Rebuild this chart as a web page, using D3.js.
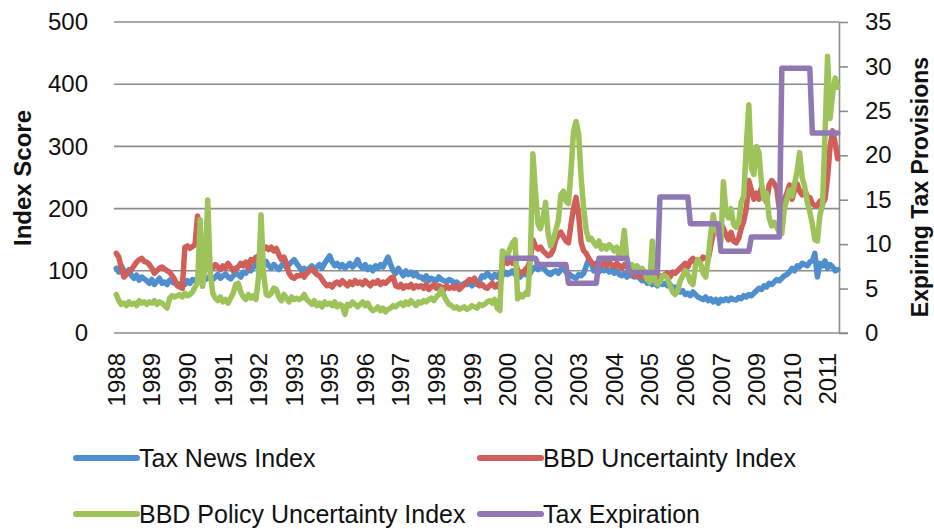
<!DOCTYPE html>
<html>
<head>
<meta charset="utf-8">
<script src="https://cdn.jsdelivr.net/npm/d3@7/dist/d3.min.js"></script>
<style>
  html, body { margin: 0; padding: 0; background: #fff; }
  svg { display: block; }
  text { font-family: "Liberation Sans", Arial, sans-serif; fill: #111; }
</style>
</head>
<body>
<div id="chart"></div>
<script>
// Tax news vs. BBD uncertainty indexes, monthly 1988-01 .. 2011-09, plus expiring tax provisions (right axis)

// === data ===
const seriesNames = ["Tax News Index", "BBD Uncertainty Index", "BBD Policy Uncertainty Index", "Tax Expiration"];

// one row per year, Jan..Dec (2011 stops in Sep)
const taxNews = [
  104, 98, 108, 100, 95, 102, 92, 88, 93, 85, 90, 87,      // 1988
  84, 80, 86, 78, 83, 88, 80, 82, 78, 85, 82, 80,          // 1989
  80, 76, 82, 78, 84, 80, 86, 84, 88, 85, 90, 86,          // 1990
  88, 92, 86, 90, 94, 88, 92, 95, 90, 87, 92, 96,          // 1991
  94, 90, 98, 96, 102, 100, 106, 110, 104, 112, 108, 115,  // 1992
  108, 104, 110, 106, 102, 108, 112, 105, 110, 114, 118, 112, // 1993
  106, 100, 104, 98, 104, 108, 102, 106, 110, 104, 112, 118,  // 1994
  124, 114, 108, 112, 106, 110, 104, 108, 112, 106, 110, 118, // 1995
  108, 104, 110, 102, 106, 100, 108, 104, 110, 106, 114, 122, // 1996
  110, 100, 96, 104, 98, 92, 100, 94, 98, 92, 96, 90,      // 1997
  90, 86, 92, 84, 88, 86, 84, 90, 86, 84, 82, 86,          // 1998
  84, 80, 82, 78, 76, 80, 78, 82, 76, 80, 78, 84,          // 1999
  92, 90, 96, 92, 88, 94, 90, 96, 92, 98, 94, 96,          // 2000
  100, 94, 96, 90, 98, 94, 100, 96, 104, 106, 102, 108,    // 2001
  106, 100, 96, 94, 98, 100, 96, 102, 104, 98, 96, 92,     // 2002
  90, 88, 94, 92, 96, 108, 118, 112, 100, 104, 98, 102,    // 2003
  100, 104, 98, 102, 96, 100, 94, 92, 96, 90, 94, 92,      // 2004
  90, 92, 88, 84, 86, 80, 82, 78, 80, 76, 82, 78,          // 2005
  80, 76, 78, 72, 74, 70, 66, 68, 62, 64, 60, 66,          // 2006
  62, 58, 56, 54, 58, 52, 55, 50, 54, 48, 54, 52,          // 2007
  55, 52, 56, 54, 53, 57, 55, 60, 58, 62, 60, 64,          // 2008
  68, 72, 70, 76, 74, 80, 78, 82, 86, 84, 88, 92,          // 2009
  94, 98, 104, 100, 108, 106, 112, 110, 108, 114, 116, 128, // 2010
  90, 112, 108, 116, 104, 110, 106, 100, 102               // 2011
];

const bbdUncertainty = [
  128, 122, 104, 90, 94, 100, 102, 108, 114, 118, 120, 115,  // 1988
  114, 110, 104, 96, 100, 104, 106, 103, 100, 98, 92, 86,    // 1989
  76, 74, 72, 138, 140, 136, 139, 142, 188, 160, 118, 130,   // 1990
  120, 108, 104, 110, 106, 102, 108, 104, 112, 106, 100, 104, // 1991
  106, 112, 108, 114, 104, 118, 116, 122, 124, 130, 136, 138, // 1992
  134, 138, 132, 136, 126, 118, 122, 112, 96, 90, 88, 92,    // 1993
  92, 94, 90, 96, 100, 104, 98, 94, 92, 86, 80, 76,          // 1994
  78, 74, 80, 82, 78, 84, 80, 76, 82, 78, 84, 80,            // 1995
  82, 78, 84, 80, 76, 82, 80, 84, 78, 82, 80, 84,            // 1996
  88, 90, 76, 74, 78, 72, 76, 74, 78, 72, 76, 74,            // 1997
  76, 72, 78, 70, 74, 78, 72, 76, 74, 70, 76, 72,            // 1998
  74, 72, 76, 70, 74, 78, 82, 86, 84, 88, 80, 76,            // 1999
  78, 74, 72, 76, 80, 74, 78, 72, 110, 118, 112, 120,        // 2000
  112, 118, 100, 98, 96, 102, 106, 118, 150, 140, 135, 138,  // 2001
  132, 128, 124, 126, 134, 150, 158, 162, 155, 148, 145, 175, // 2002
  200, 218, 190, 145, 132, 128, 120, 114, 110, 112, 108, 110, // 2003
  112, 108, 114, 110, 106, 112, 108, 104, 110, 106, 100, 96, // 2004
  92, 94, 90, 96, 88, 92, 86, 90, 94, 88, 92, 90,            // 2005
  94, 96, 90, 98, 96, 100, 104, 108, 112, 106, 116, 120,     // 2006
  112, 118, 116, 122, 120, 118, 140, 160, 172, 165, 175, 168, // 2007
  158, 150, 162, 148, 145, 152, 168, 180, 200, 245, 230, 215, // 2008
  225, 215, 235, 220, 210, 238, 245, 240, 232, 200, 195, 215, // 2009
  225, 238, 215, 230, 240, 228, 222, 230, 220, 218, 208, 205, // 2010
  205, 212, 208, 215, 250, 300, 325, 305, 280                 // 2011
];

const bbdPolicy = [
  62, 52, 46, 48, 44, 50, 46, 48, 44, 52, 48, 50,            // 1988
  46, 50, 48, 52, 46, 50, 48, 44, 40, 56, 60, 58,            // 1989
  60, 62, 58, 64, 60, 62, 66, 74, 80, 182, 75, 110,          // 1990
  214, 95, 64, 56, 52, 58, 50, 54, 48, 56, 64, 78,           // 1991
  80, 66, 58, 54, 62, 56, 60, 54, 90, 190, 95, 62,           // 1992
  60, 64, 72, 70, 58, 52, 62, 56, 50, 58, 54, 56,            // 1993
  54, 56, 62, 54, 50, 46, 52, 44, 48, 42, 50, 46,            // 1994
  48, 44, 50, 42, 46, 44, 30, 46, 44, 50, 46, 42,            // 1995
  46, 50, 44, 48, 40, 36, 38, 42, 36, 40, 34, 38,            // 1996
  40, 44, 42, 46, 48, 44, 50, 46, 52, 48, 44, 50,            // 1997
  48, 52, 50, 54, 56, 52, 58, 62, 70, 60, 52, 46,            // 1998
  44, 40, 42, 38, 40, 42, 38, 40, 44, 42, 40, 46,            // 1999
  44, 46, 50, 52, 48, 54, 40, 36, 132, 128, 124, 136,        // 2000
  145, 150, 55, 62, 58, 64, 62, 120, 288, 228, 175, 168,     // 2001
  185, 210, 160, 140, 150, 165, 180, 222, 228, 212, 208, 260, // 2002
  325, 340, 320, 250, 200, 165, 150, 152, 145, 140, 148, 135, // 2003
  140, 135, 142, 138, 132, 138, 122, 130, 165, 118, 106, 110, // 2004
  104, 108, 100, 104, 98, 86, 82, 148, 85, 78, 82, 92,       // 2005
  92, 88, 76, 66, 62, 68, 84, 92, 100, 94, 82, 78,           // 2006
  108, 118, 112, 96, 90, 120, 160, 190, 165, 160, 146, 243,  // 2007
  195, 185, 200, 175, 170, 178, 210, 220, 300, 367, 265, 255, // 2008
  300, 290, 240, 215, 225, 185, 172, 178, 170, 162, 160, 200, // 2009
  215, 230, 220, 240, 260, 290, 250, 235, 210, 195, 175, 150, // 2010
  148, 190, 205, 320, 445, 345, 385, 410, 395                 // 2011
];

// expiring provisions: constant from each start month until the next one starts
const taxExpStart = ["2000-11", "2001-11", "2002-11", "2003-11", "2004-11", "2005-11",
                     "2006-11", "2007-11", "2008-11", "2009-11", "2010-11"];
const taxExpValue = [8.4, 7.7, 5.6, 8.4, 6.8, 15.3, 12.3, 9.2, 10.8, 29.8, 22.5];

const leftTicks  = [0, 100, 200, 300, 400, 500];
const rightTicks = [0, 5, 10, 15, 20, 25, 30, 35];
const xTickLabels = ["1988", "1989", "1990", "1991", "1992", "1993", "1995", "1996", "1997", "1998", "1999",
                     "2000", "2002", "2003", "2004", "2005", "2006", "2007", "2009", "2010", "2011"];
const labelEvery = 14; // excel category axis: one label every 14 months

const colors = ["#4f8fcd", "#cf5f58", "#9fc35b", "#9078b5"];

// === sizing ===
const outerW = 934, outerH = 529;
const plot = { left: 115, right: 839, top: 22, bottom: 333 };

const svg = d3.select("#chart").append("svg")
  .attr("width", outerW).attr("height", outerH);

// monthly categories
const fmtKey = d3.timeFormat("%Y-%m");
const monthKeys = d3.timeMonth.range(new Date(1988, 0, 1), new Date(2011, 9, 1)).map(fmtKey);

const x  = d3.scaleBand().domain(monthKeys).range([plot.left, plot.right]).padding(0);
const xc = k => x(k) + x.bandwidth() / 2;
const yL = d3.scaleLinear().domain([0, 500]).range([plot.bottom, plot.top]);
const yR = d3.scaleLinear().domain([0, 35]).range([plot.bottom, plot.top]);

// gridlines
svg.append("g").selectAll("line").data(leftTicks).join("line")
  .attr("x1", plot.left - 1).attr("x2", d => d === 0 ? plot.right + 9 : plot.right)
  .attr("y1", d => yL(d)).attr("y2", d => yL(d))
  .attr("stroke", "#8c8c8c").attr("stroke-width", 1.6);

// left axis labels
const leftAxis = svg.append("g").attr("transform", `translate(${plot.left},0)`)
  .call(d3.axisLeft(yL).tickValues(leftTicks).tickSize(0).tickPadding(27));
leftAxis.select(".domain").remove();
leftAxis.selectAll("text").style("font-size", "24px").attr("font-family", null).attr("fill", "#111");

// right axis
const rightAxis = svg.append("g").attr("transform", `translate(${plot.right},0)`)
  .call(d3.axisRight(yR).tickValues(rightTicks).tickSize(9).tickSizeOuter(0).tickPadding(17));
rightAxis.select(".domain").attr("stroke", "#8c8c8c").attr("stroke-width", 1.6);
rightAxis.selectAll(".tick line").attr("stroke", "#8c8c8c").attr("stroke-width", 1.6);
rightAxis.selectAll("text").style("font-size", "24px").attr("font-family", null).attr("fill", "#111");

// bottom category labels
const tickKeys = xTickLabels.map((_, j) => monthKeys[j * labelEvery]);
const bottomAxis = svg.append("g").attr("transform", `translate(0,${plot.bottom})`)
  .call(d3.axisBottom(x).tickValues(tickKeys).tickSize(0)
    .tickFormat((k, j) => xTickLabels[j]));
bottomAxis.select(".domain").remove();
bottomAxis.selectAll("text")
  .attr("transform", "rotate(-90)")
  .attr("x", -20).attr("y", 0).attr("dy", "0.36em")
  .attr("text-anchor", "end")
  .attr("font-family", null)
  .style("font-size", "24px").attr("fill", "#111");

// axis titles
svg.append("text")
  .attr("transform", `translate(31,178) rotate(-90)`)
  .attr("text-anchor", "middle")
  .style("font-size", "24px").style("font-weight", "bold")
  .text("Index Score");

svg.append("text")
  .attr("transform", `translate(928,187) rotate(-90)`)
  .attr("text-anchor", "middle")
  .style("font-size", "23px").style("font-weight", "bold")
  .text("Expiring Tax Provisions");

// lines
const lineL = d3.line().x(d => xc(d.k)).y(d => yL(d.v));
const lineR = d3.line().x(d => xc(d.k)).y(d => yR(d.v));

const indexSeries = [taxNews, bbdUncertainty, bbdPolicy].map(arr =>
  arr.map((v, i) => ({ k: monthKeys[i], v })));

const linesLayer = svg.append("g")
  .attr("fill", "none").attr("stroke-width", 5.5)
  .attr("stroke-linejoin", "round").attr("stroke-linecap", "round");

indexSeries.forEach((s, i) => {
  linesLayer.append("path").attr("stroke", colors[i]).attr("d", lineL(s));
});

// tax expiration step series
const lastKey = monthKeys[monthKeys.length - 1];
const expPts = taxExpStart.flatMap((k, i) => {
  const endKey = i < taxExpStart.length - 1
    ? monthKeys[monthKeys.indexOf(taxExpStart[i + 1]) - 1]
    : lastKey;
  return [{ k, v: taxExpValue[i] }, { k: endKey, v: taxExpValue[i] }];
});
linesLayer.append("path").attr("stroke", colors[3]).attr("d", lineR(expPts));

// legend
const legendPos = [[76, 458], [480, 458], [76, 514], [480, 514]];
const legend = svg.append("g").selectAll("g").data(seriesNames).join("g")
  .attr("transform", (d, i) => `translate(${legendPos[i][0]},${legendPos[i][1]})`);

legend.append("line")
  .attr("x1", 0).attr("x2", 61)
  .attr("stroke", (d, i) => colors[i]).attr("stroke-width", 6)
  .attr("stroke-linecap", "round");

legend.append("text")
  .attr("x", 63).attr("dy", "0.36em")
  .style("font-size", "25px")
  .text(d => d);
</script>
</body>
</html>
